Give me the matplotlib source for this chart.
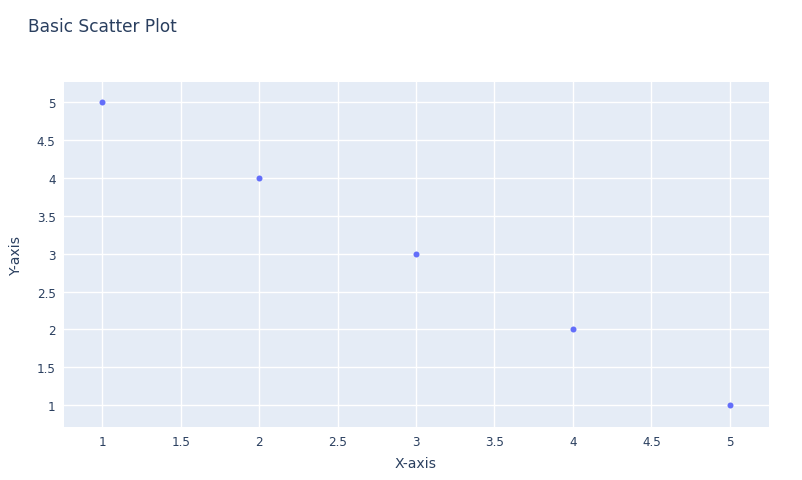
import numpy as np
import matplotlib
matplotlib.use("Agg")
from matplotlib import pyplot as plt

x_values = [1, 2, 3, 4, 5]
y_values = [5, 4, 3, 2, 1]
x_ticks = [1, 1.5, 2, 2.5, 3, 3.5, 4, 4.5, 5]
y_ticks = [1, 1.5, 2, 2.5, 3, 3.5, 4, 4.5, 5]

W, H = 802, 481
px = 72 / 100  # pixel -> point

plt.rcParams['font.family'] = ['DejaVu Sans']
text_col = '#2a3f5f'

fig = plt.figure(figsize=(W / 100, H / 100), dpi=100)
left, right, top, bottom = 64, 769, 82.7, 427.7
ax = fig.add_axes([left / W, 1 - bottom / H, (right - left) / W, (bottom - top) / H])
ax.set_facecolor('#e5ecf6')
for s in ax.spines.values():
    s.set_visible(False)

ax.scatter(x_values, y_values, s=(6 * px) ** 2, color='#636efa', zorder=3, linewidths=0)

ax.set_xlim(0.756, 5.25)
ax.set_ylim(0.717, 5.27)
ax.set_xticks(x_ticks)
ax.set_yticks(y_ticks)
ax.set_xticklabels([f"{t:g}" for t in x_ticks])
ax.set_yticklabels([f"{t:g}" for t in y_ticks])
ax.grid(True, color='white', linewidth=1.0)
ax.set_axisbelow(True)
ax.tick_params(length=0, labelsize=12 * px, colors=text_col, pad=6)

fig.text(416 / W, 1 - 464 / H, "X-axis", fontsize=14 * px, color=text_col, ha='center', va='center')
fig.text(16 / W, 1 - 255 / H, "Y-axis", fontsize=14 * px, color=text_col, ha='center', va='center', rotation=90)
fig.text(28 / W, 1 - 27 / H, "Basic Scatter Plot", fontsize=17 * px, color=text_col, va='center', ha='left')

fig.savefig("out.png", dpi=100)
